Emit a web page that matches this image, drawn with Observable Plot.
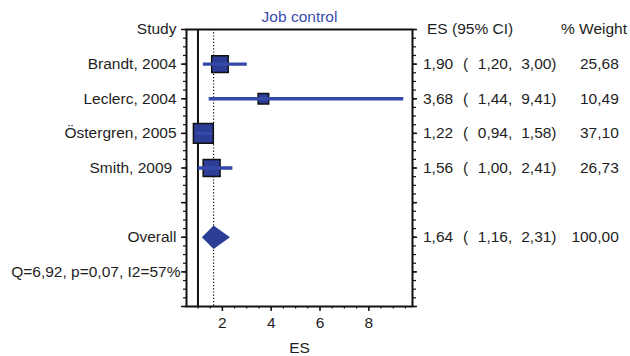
<!DOCTYPE html>
<html>
<head>
<meta charset="utf-8">
<script src="https://cdn.jsdelivr.net/npm/d3@7"></script>
<script src="https://cdn.jsdelivr.net/npm/@observablehq/plot@0.6"></script>
<style>
  html, body { margin: 0; padding: 0; background: #fff; }
  #chart svg { display: block; }
</style>
</head>
<body>
<div id="chart"></div>
<script>
// ---- data ----
const title = "Job control";
const studies = ["Brandt, 2004", "Leclerc, 2004", "Östergren, 2005", "Smith, 2009\u00a0"];
const es = [1.90, 3.68, 1.22, 1.56];
const lo = [1.20, 1.44, 0.94, 1.00];
const hi = [3.00, 9.41, 1.58, 2.41];
const weight = [25.68, 10.49, 37.10, 26.73];
const overallLabel = "Overall";
const overallES = 1.64, overallLo = 1.16, overallHi = 2.31, overallWeight = 100.00;
const heterogeneity = "Q=6,92, p=0,07, I2=57%";
const xTicks = [2, 4, 6, 8];
const headers = {study: "Study", ci: "ES (95% CI)", weight: "% Weight", axis: "ES"};

// ---- derived ----
const fmt = v => v.toFixed(2).replace(".", ",");
const rows = studies.map((s, i) => ({row: i + 1, label: s, es: es[i], lo: lo[i], hi: hi[i], w: weight[i]}));
const overallRow = studies.length + 2;
const overall = {row: overallRow, label: overallLabel, es: overallES, lo: overallLo, hi: overallHi, w: overallWeight};
const qRow = overallRow + 1;
const lastRow = qRow + 1;
const allRows = [...rows, overall];
const labelByRow = new Map([[0, headers.study], ...rows.map(r => [r.row, r.label]), [overallRow, overallLabel]]);
const halfH = 0.34;
const diamond = [
  {x: overall.lo, y: overall.row},
  {x: overall.es, y: overall.row - halfH},
  {x: overall.hi, y: overall.row},
  {x: overall.es, y: overall.row + halfH},
  {x: overall.lo, y: overall.row}
];

const blueFill = "#2c3d96";
const blueLine = "#3448a8";
const blueTitle = "#3a4cae";
const ink = "#1e1e1e";

const chart = Plot.plot({
  width: 630,
  height: 356,
  marginLeft: 186,
  marginRight: 218,
  marginTop: 29,
  marginBottom: 50,
  style: {fontFamily: "'Liberation Sans', Arial, Helvetica, sans-serif", fontSize: "15.5px", color: ink, background: "#fff"},
  x: {domain: [0.53, 9.79], label: null},
  y: {domain: [0, lastRow], reverse: true, label: null},
  r: {type: "sqrt", domain: [0, d3.max(weight)], range: [0, 11.2]},
  marks: [
    // minor ticks
    Plot.axisX({ticks: d3.range(1, 9.6, 0.5), tickSize: 2.5, tickFormat: () => "", stroke: "#111", strokeWidth: 1.2}),
    Plot.axisY({ticks: d3.range(0, lastRow + 0.01, 0.25), tickSize: 3, tickFormat: () => "", stroke: "#111", strokeWidth: 1.2}),
    Plot.axisY({anchor: "right", ticks: d3.range(0, lastRow + 0.01, 0.25), tickSize: 3, tickFormat: () => "", stroke: "#111", strokeWidth: 1.2}),
    // major ticks
    Plot.axisX({ticks: xTicks, tickSize: 5, tickPadding: 5, tickFormat: d => String(d), stroke: "#111", strokeWidth: 1.5, fill: ink}),
    Plot.axisY({ticks: d3.range(0, lastRow + 1), tickSize: 5, tickPadding: 5, tickFormat: d => labelByRow.get(d) ?? "", stroke: "#111", strokeWidth: 1.5, fill: ink}),
    Plot.axisY({anchor: "right", ticks: d3.range(0, lastRow + 1), tickSize: 4, tickFormat: () => "", stroke: "#111", strokeWidth: 1.5}),
    // reference lines
    Plot.ruleX([1], {stroke: "#111", strokeWidth: 2}),
    Plot.ruleX([overall.es], {stroke: "#111", strokeWidth: 1.2, strokeDasharray: "1.2,2"}),
    // boxes
    Plot.dot(rows, {x: "es", y: "row", r: "w", symbol: "square", fill: blueFill, stroke: "#111", strokeWidth: 1.5}),
    // CIs
    Plot.link(rows, {x1: "lo", x2: "hi", y1: "row", y2: "row", stroke: blueLine, strokeWidth: 3.4}),
    // overall diamond
    Plot.line(diamond, {x: "x", y: "y", fill: blueFill, stroke: "none"}),
    // frame
    Plot.frame({stroke: "#111", strokeWidth: 2}),
    // heterogeneity
    Plot.text([heterogeneity], {y: [qRow], text: d => d, frameAnchor: "left", dx: -6, textAnchor: "end", lineAnchor: "middle", fill: ink}),
    // right-side columns
    Plot.text([headers.ci], {y: [0], text: d => d, frameAnchor: "right", dx: 14.5, textAnchor: "start", lineAnchor: "middle", fill: ink}),
    Plot.text([headers.weight], {y: [0], text: d => d, frameAnchor: "right", dx: 214.5, textAnchor: "end", lineAnchor: "middle", fill: ink}),
    Plot.text(allRows, {y: "row", text: d => fmt(d.es), frameAnchor: "right", dx: 10.5, textAnchor: "start", lineAnchor: "middle", fill: ink}),
    Plot.text(allRows, {y: "row", text: () => "(", frameAnchor: "right", dx: 50.5, textAnchor: "start", lineAnchor: "middle", fill: ink}),
    Plot.text(allRows, {y: "row", text: d => fmt(d.lo) + ",", frameAnchor: "right", dx: 65.3, textAnchor: "start", lineAnchor: "middle", fill: ink}),
    Plot.text(allRows, {y: "row", text: d => fmt(d.hi) + ")", frameAnchor: "right", dx: 108.7, textAnchor: "start", lineAnchor: "middle", fill: ink}),
    Plot.text(allRows, {y: "row", text: d => fmt(d.w), frameAnchor: "right", dx: 206.3, textAnchor: "end", lineAnchor: "middle", fill: ink}),
    // title and x label
    Plot.text([title], {text: d => d, frameAnchor: "top", dy: -12, lineAnchor: "middle", fill: blueTitle}),
    Plot.text([headers.axis], {text: d => d, frameAnchor: "bottom", dy: 41.5, lineAnchor: "middle", fill: ink})
  ]
});
document.getElementById("chart").appendChild(chart);
</script>
</body>
</html>
